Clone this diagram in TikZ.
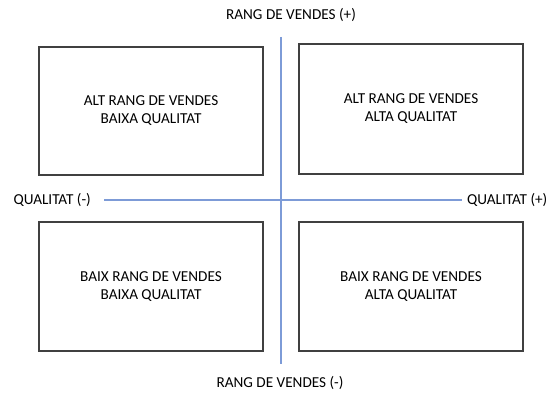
\documentclass[tikz,border=0pt]{standalone}
\usepackage{fontspec}
\setmainfont{Carlito}
\begin{document}
\begin{tikzpicture}[x=1pt,y=1pt,
  quad/.style={draw=black!75, line width=1.1pt, minimum width=224pt, inner sep=0pt,
    align=center, font=\fontsize{15.2}{18}\selectfont},
  axis/.style={draw={rgb,255:red,125;green,155;blue,215}, line width=1.5pt},
  axlabel/.style={inner sep=0pt, font=\fontsize{15.2}{18}\selectfont}]
\useasboundingbox (0,0) rectangle (549,394);

% four quadrants
\node[quad, minimum height=128pt] (tl) at (151,283) {ALT RANG DE VENDES\\BAIXA QUALITAT};
\node[quad, minimum height=130pt] (tr) at (411,285) {ALT RANG DE VENDES\\ALTA QUALITAT};
\node[quad, minimum height=129pt] (bl) at (151,107.5) {BAIX RANG DE VENDES\\BAIXA QUALITAT};
\node[quad, minimum height=129pt] (br) at (411,107.5) {BAIX RANG DE VENDES\\ALTA QUALITAT};

% axis labels
\node[axlabel] (ytop) at (291,379) {RANG DE VENDES (+)};
\node[axlabel] (ybot) at (280,11) {RANG DE VENDES (-)};
\node[axlabel, anchor=east] (xneg) at (91,194) {QUALITAT (-)};
\node[axlabel, anchor=west] (xpos) at (467,194) {QUALITAT (+)};

% axes
\coordinate (vtop) at (281,357);
\coordinate (vbot) at (281,30);
\coordinate (hleft) at (104,194);
\coordinate (hright) at (462,194);
\draw[axis] (vtop) -- (vbot);
\draw[axis] (hleft) -- (hright);
\end{tikzpicture}
\end{document}
